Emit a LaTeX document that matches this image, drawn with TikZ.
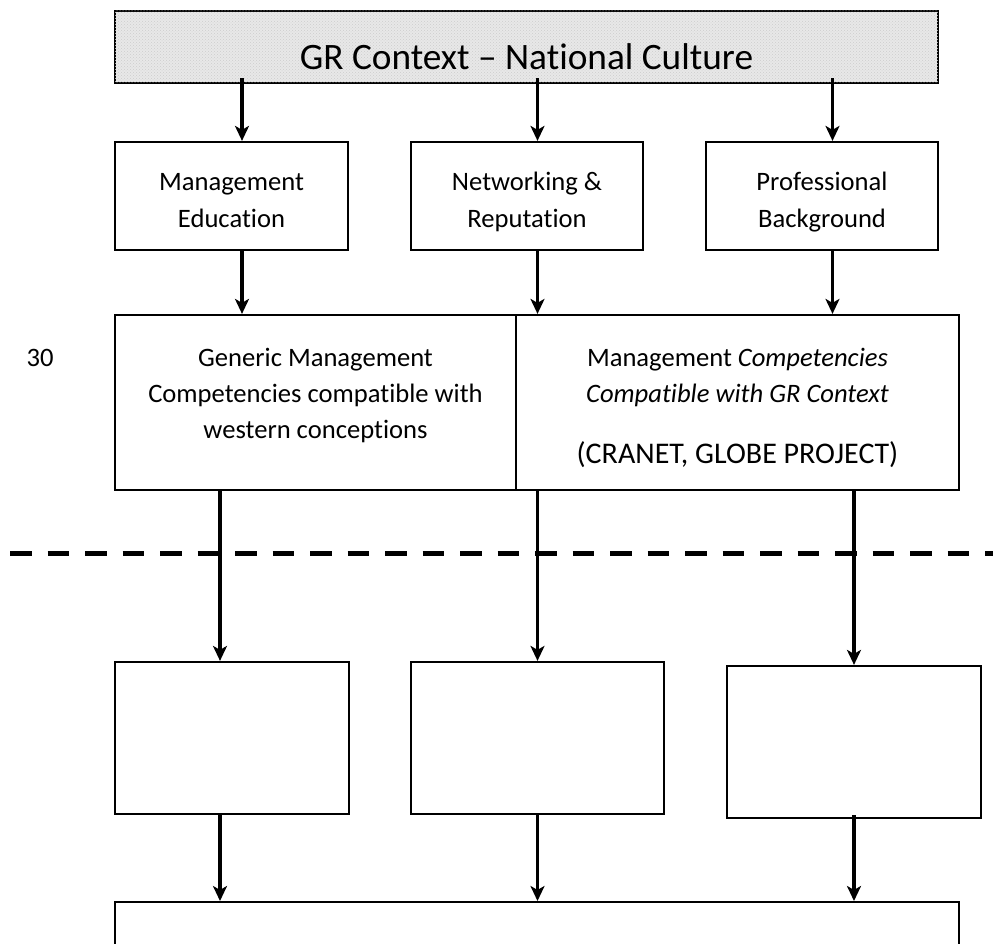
\documentclass[tikz,border=0pt]{standalone}
\usepackage{fontspec}
\setmainfont{Carlito}[Ligatures=NoCommon]
\usepackage{tikz}
\usetikzlibrary{positioning}
\usetikzlibrary{patterns}
\usetikzlibrary{arrows.meta}
\definecolor{contextColor}{HTML}{E8E8E8}
\definecolor{dotColor}{HTML}{CCCCCC}
\newcommand{\bodyfont}{\fontsize{26.6}{36}\selectfont}
\tikzset{
  box/.style={draw, line width=2.2pt, inner sep=0pt, align=center, font=\bodyfont},
  source/.style={box, minimum width=232pt, minimum height=108pt, text height=62pt, text depth=0pt},
  flow/.style={line width=3.4pt, -{Stealth[length=15pt,width=14pt,inset=4pt]}},
  cut/.style={line width=5pt, dash pattern=on 21.5pt off 16pt},
}

\begin{document}
\begin{tikzpicture}[x=1pt,y=-1pt]
  \useasboundingbox (0,0) rectangle (993,944);
  \clip (0,0) rectangle (993,944);
  % context bar
  \node[box, fill=contextColor, postaction={pattern=crosshatch dots, pattern color=dotColor}, minimum width=823pt, minimum height=72pt] (context) at (526.5,47) {};
  \node[anchor=base, font=\fontsize{37.3}{40}\selectfont] (contextText) at (526.5,70) {GR Context – National Culture};
  % sources
  \node[source, minimum width=233pt] (education) at (231.5,196) {Management\\Education};
  \node[source] (networking) at (527,196) {Networking \&\\Reputation};
  \node[source] (background) at (822,196) {Professional\\Background};
  % competencies
  \node[box, minimum width=401pt, minimum height=175pt] (generic) at (315.5,402.5) {};
  \node[anchor=north, align=center, font=\bodyfont, inner sep=0pt] (genericText) at (315.5,348) {Generic Management\\Competencies compatible with\\western conceptions};
  \node[box, minimum width=443pt, minimum height=175pt] (compatible) at (737.5,402.5) {};
  \node[anchor=north, align=center, font=\bodyfont, inner sep=0pt] (compatibleText) at (737.5,348) {Management \textit{Competencies}\\\textit{Compatible with GR Context}};
  \node[anchor=base, font=\fontsize{30}{34}\selectfont, inner sep=0pt] (sources) at (737.5,463) {(CRANET, GLOBE PROJECT)};
  \node[anchor=base, font=\bodyfont, inner sep=0pt] (lineNo) at (40,366) {30};
  % outcomes
  \node[box, minimum width=234pt, minimum height=152pt] (outA) at (232,738) {};
  \node[box, minimum width=253pt, minimum height=152pt] (outB) at (537.5,738) {};
  \node[box, minimum width=254pt, minimum height=152pt] (outC) at (854,742) {};
  \node[box, minimum width=844pt, minimum height=80pt, anchor=north] (result) at (537,901) {};
  \draw[cut] (10,553) -- (993,553);
  % arrows
  \draw[flow] ([xshift=10.5pt,yshift=6pt]context.south -| education.north) -- ([xshift=10.5pt]education.north);
  \draw[flow] ([xshift=10.5pt,yshift=6pt]context.south -| networking.north) -- ([xshift=10.5pt]networking.north);
  \draw[flow] ([xshift=10.5pt,yshift=6pt]context.south -| background.north) -- ([xshift=10.5pt]background.north);
  \draw[flow] ([xshift=10.5pt]education.south) -- ([xshift=10.5pt]education.south |- generic.north);
  \draw[flow] ([xshift=10.5pt]networking.south) -- ([xshift=10.5pt]networking.south |- compatible.north);
  \draw[flow] ([xshift=10.5pt]background.south) -- ([xshift=10.5pt]background.south |- compatible.north);
  \draw[flow] ([xshift=-12pt]outA.north |- generic.south) -- ([xshift=-12pt]outA.north);
  \draw[flow] (outB.north |- compatible.south) -- (outB.north);
  \draw[flow] (outC.north |- compatible.south) -- (outC.north);
  \draw[flow] ([xshift=-12pt]outA.south) -- ([xshift=-12pt]outA.south |- result.north);
  \draw[flow] (outB.south) -- (outB.south |- result.north);
  \draw[flow] ([yshift=4pt]outC.south) -- (outC.south |- result.north);
\end{tikzpicture}
\end{document}
